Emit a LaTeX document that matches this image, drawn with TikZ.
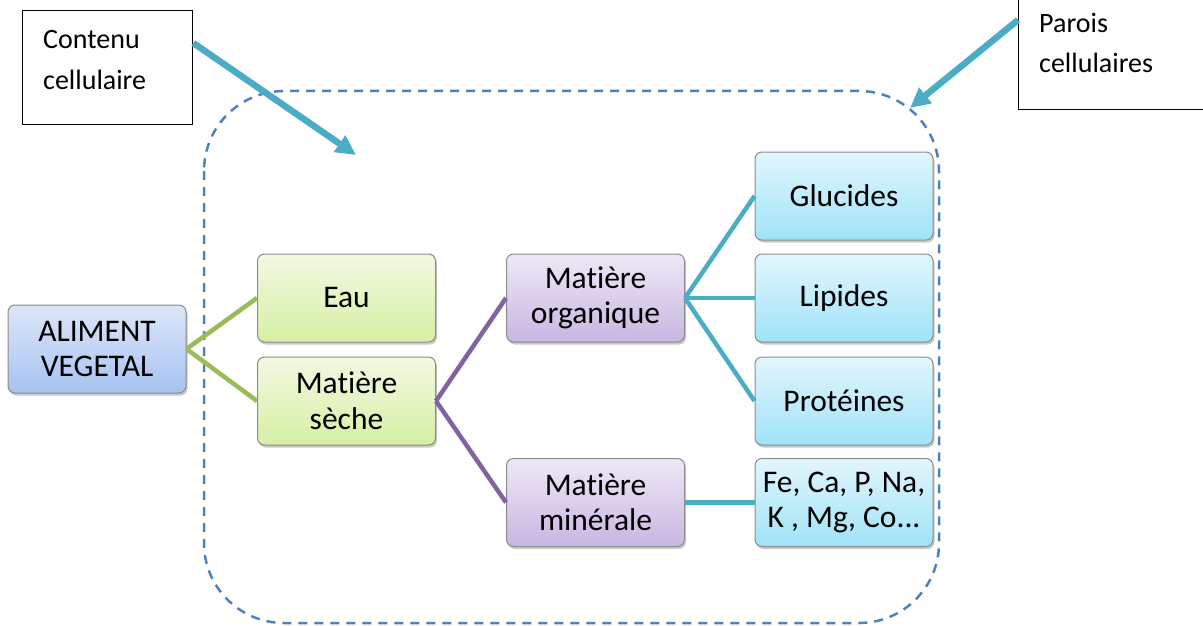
\documentclass[tikz,border=0pt]{standalone}
\usepackage{fontspec}
\setmainfont{Carlito}[RawFeature=-liga]
\usetikzlibrary{arrows.meta,shadows}
\definecolor{bord}{HTML}{8C8C8C}
\definecolor{blueA}{HTML}{DCE6F8}
\definecolor{blueB}{HTML}{A6C3F2}
\definecolor{greenA}{HTML}{F2F9E2}
\definecolor{greenB}{HTML}{D6F0A4}
\definecolor{purpA}{HTML}{EEE8F6}
\definecolor{purpB}{HTML}{C8B6E2}
\definecolor{tealA}{HTML}{E2F6FD}
\definecolor{tealB}{HTML}{9FE3F8}
\definecolor{greenL}{HTML}{9BBB59}
\definecolor{purpL}{HTML}{8064A2}
\definecolor{tealL}{HTML}{4BACC6}
\definecolor{dashC}{HTML}{4F81BD}
\tikzset{
  box/.style={draw=bord, line width=1pt, rounded corners=7pt, minimum width=178pt, minimum height=88pt,
    inner sep=0pt, align=center, font=\fontsize{31.5}{35.5}\selectfont,
    drop shadow={shadow xshift=1.5pt, shadow yshift=-2.5pt, opacity=0.35, fill=black!60}},
  bluebox/.style={box, top color=blueA, bottom color=blueB},
  greenbox/.style={box, top color=greenA, bottom color=greenB},
  purpbox/.style={box, top color=purpA, bottom color=purpB},
  tealbox/.style={box, top color=tealA, bottom color=tealB},
  gline/.style={greenL, line width=4.5pt},
  pline/.style={purpL, line width=4.5pt},
  tline/.style={tealL, line width=4.5pt},
  labelbox/.style={draw=black, line width=1.3pt, fill=white},
  labeltext/.style={anchor=base west, align=left, inner sep=0pt, font=\fontsize{28}{40.5}\selectfont},
  bigarrow/.style={tealL, line width=6.5pt, -{Triangle[length=20pt,width=19pt]}},
  wall/.style={dashC, line width=2.5pt, dash pattern=on 9pt off 7pt, rounded corners=80pt}
}
\begin{document}
\begin{tikzpicture}[x=1pt,y=-1pt]
\clip (0,0) rectangle (1203,626);
\fill[white] (0,0) rectangle (1203,626);
% cell wall
\draw[wall] (204,91) rectangle (939,623);
% nodes
\node[bluebox]  (ali) at (97,349) {ALIMENT\\VEGETAL};
\node[greenbox] (eau) at (346.5,298) {Eau};
\node[greenbox] (ms)  at (346.5,401) {Matière\\sèche};
\node[purpbox]  (mo)  at (595.5,298) {Matière\\organique};
\node[purpbox]  (mm)  at (595.5,502.5) {Matière\\minérale};
\node[tealbox]  (glu) at (844,196) {Glucides};
\node[tealbox]  (lip) at (844,298) {Lipides};
\node[tealbox]  (pro) at (844,401) {Protéines};
\node[tealbox]  (min) at (844,502.5) {Fe, Ca, P, Na,\\K , Mg, Co...};
% connectors
\draw[gline] (ali.east) -- (eau.west);
\draw[gline] (ali.east) -- (ms.west);
\draw[pline] (ms.east) -- (mo.west);
\draw[pline] (ms.east) -- (mm.west);
\draw[tline] (mo.east) -- (glu.west);
\draw[tline] (mo.east) -- (lip.west);
\draw[tline] (mo.east) -- (pro.west);
\draw[tline] (mm.east) -- (min.west);
% label boxes
\node[labelbox, anchor=north west, minimum width=170pt, minimum height=114pt] (cbox) at (22,10) {};
\node[labeltext] (ctext) at (43,89) {Contenu\\cellulaire};
\node[labelbox, anchor=north west, minimum width=200pt, minimum height=129pt] (pbox) at (1018,-20) {};
\node[labeltext] (ptext) at (1039,73) {Parois\\cellulaires};
% arrows
\coordinate (ctip) at (356,155);
\coordinate (ptip) at (910,108);
\draw[bigarrow] ([yshift=-33pt]cbox.north east) -- (ctip);
\draw[bigarrow] ([yshift=-40pt]pbox.north west) -- (ptip);
\end{tikzpicture}
\end{document}
